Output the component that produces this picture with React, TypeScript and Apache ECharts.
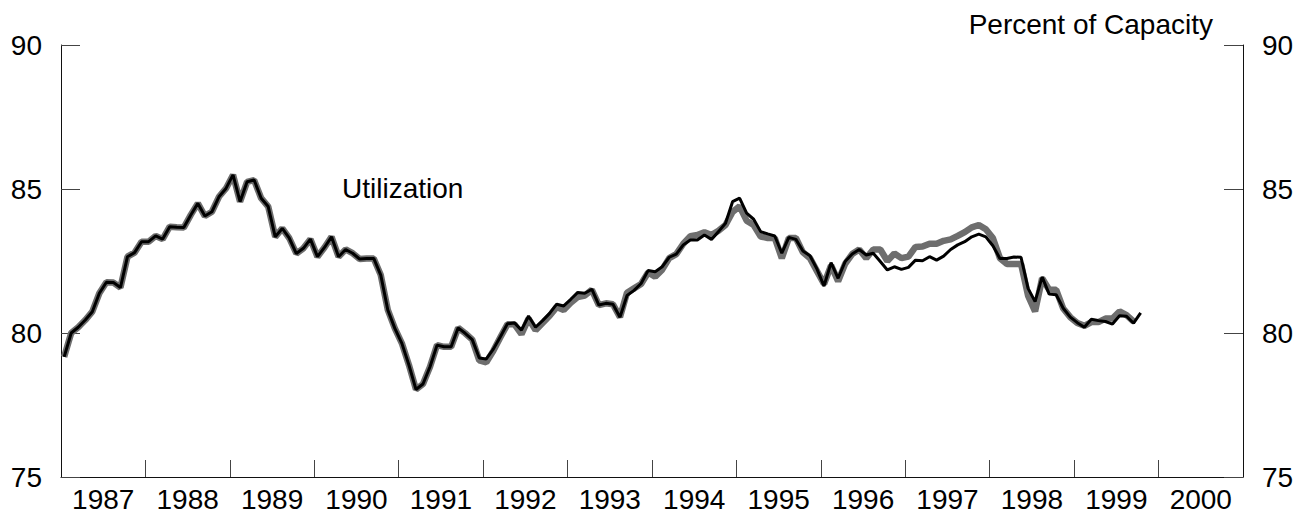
import React, { useEffect, useRef } from "react";
import * as echarts from "echarts";

// Monthly series starting January 1987
const START_YEAR = 1987;
const utilizationCurrent = [
  79.17, 80.0, 80.2, 80.45, 80.74, 81.38, 81.76, 81.75, 81.58, 82.65, 82.79, 83.17,
  83.17, 83.37, 83.26, 83.69, 83.67, 83.66, 84.1, 84.5, 84.06, 84.21, 84.73, 85.02,
  85.49, 84.56, 85.25, 85.31, 84.68, 84.39, 83.34, 83.63, 83.29, 82.76, 82.94, 83.26,
  82.65, 82.97, 83.34, 82.65, 82.9, 82.77, 82.57, 82.59, 82.59, 82.01, 80.8, 80.16,
  79.64, 78.89, 78.04, 78.23, 78.83, 79.58, 79.52, 79.52, 80.18, 79.99, 79.77, 79.13,
  79.1, 79.44, 79.87, 80.32, 80.35, 80.1, 80.59, 80.2, 80.43, 80.68, 81.0, 80.94,
  81.17, 81.41, 81.38, 81.52, 80.97, 81.03, 81.0, 80.55, 81.3, 81.48, 81.72, 82.17,
  82.13, 82.3, 82.63, 82.74, 83.06, 83.23, 83.23, 83.4, 83.25, 83.52, 83.81, 84.56,
  84.68, 84.16, 83.95, 83.52, 83.44, 83.37, 82.77, 83.32, 83.25, 82.85, 82.68, 82.22,
  81.63, 82.44, 81.9, 82.48, 82.74, 82.9, 82.71, 82.77, 82.48, 82.19, 82.3, 82.21,
  82.28, 82.53, 82.51, 82.65, 82.53, 82.67, 82.9, 83.06, 83.17, 83.34, 83.43, 83.34,
  83.03, 82.59, 82.59, 82.64, 82.63, 81.55, 81.09, 81.95, 81.35, 81.33, 80.86, 80.55,
  80.36, 80.2, 80.48, 80.43, 80.4, 80.31, 80.6, 80.58, 80.34, 80.7,
];
const utilizationPrevious = [
  79.17, 80.0, 80.2, 80.45, 80.74, 81.38, 81.76, 81.75, 81.58, 82.65, 82.79, 83.17,
  83.17, 83.37, 83.26, 83.69, 83.67, 83.66, 84.1, 84.5, 84.06, 84.21, 84.73, 85.02,
  85.49, 84.56, 85.25, 85.31, 84.68, 84.39, 83.34, 83.63, 83.29, 82.76, 82.94, 83.26,
  82.65, 82.97, 83.34, 82.65, 82.9, 82.77, 82.57, 82.59, 82.59, 82.01, 80.8, 80.16,
  79.64, 78.89, 78.04, 78.23, 78.83, 79.58, 79.52, 79.52, 80.18, 79.99, 79.77, 79.05,
  78.98, 79.38, 79.85, 80.3, 80.3, 79.96, 80.5, 80.1, 80.35, 80.6, 80.9, 80.8,
  81.05, 81.25, 81.3, 81.5, 80.97, 81.03, 81.0, 80.55, 81.4, 81.55, 81.7, 82.1,
  81.95, 82.2, 82.6, 82.74, 83.1, 83.36, 83.4, 83.5, 83.4, 83.55, 83.75, 84.2,
  84.4, 83.9, 83.75, 83.35, 83.3, 83.3, 82.6, 83.3, 83.3, 82.8, 82.6, 82.15,
  81.7, 82.35, 81.8, 82.4, 82.74, 82.9, 82.6, 82.9, 82.9, 82.5, 82.76, 82.6,
  82.65, 82.99, 83.0, 83.1, 83.1, 83.2, 83.25, 83.37, 83.5, 83.67, 83.75, 83.6,
  83.3, 82.6, 82.4, 82.4, 82.4, 81.3, 80.75, 81.9, 81.5, 81.5, 80.85, 80.55,
  80.35, 80.25, 80.38, 80.38, 80.5, 80.5, 80.75, 80.62, 80.4,
];
const yearTicks = [1988, 1989, 1990, 1991, 1992, 1993, 1994, 1995, 1996, 1997, 1998, 1999, 2000];
const yearLabels = [1987, 1988, 1989, 1990, 1991, 1992, 1993, 1994, 1995, 1996, 1997, 1998, 1999, 2000];
const yAxisTicks = [75, 80, 85, 90];

const FONT = "Liberation Sans, Arial, Helvetica, sans-serif";

function toPoints(vals: number[]) {
  return vals.map((v, i) => [START_YEAR + (i + 0.45) / 12, v]);
}

export default function App() {
  const ref = useRef<HTMLDivElement>(null);
  useEffect(() => {
    if (!ref.current) return;
    const chart = echarts.init(ref.current, undefined, { renderer: "svg" });
    const yAxisCommon = {
      type: "value",
      min: yAxisTicks[0],
      max: yAxisTicks[yAxisTicks.length - 1],
      interval: 5,
      splitLine: { show: false },
      axisLine: { show: true, lineStyle: { color: "#111", width: 1 } },
      axisTick: { show: true, inside: true, length: 19, lineStyle: { color: "#444", width: 1 } },
      axisLabel: { show: true, margin: 19, fontSize: 28, color: "#000", fontFamily: FONT },
    };
    chart.setOption({
      animation: false,
      backgroundColor: "#fff",
      grid: { left: 61, right: 67, top: 45, bottom: 37, outerBoundsMode: "none" },
      xAxis: {
        type: "value",
        min: 1987,
        max: 2001,
        interval: 1,
        splitLine: { show: false },
        axisLine: { show: true, onZero: false, lineStyle: { color: "#111", width: 1 } },
        axisTick: {
          show: true,
          inside: true,
          length: 17,
          customValues: yearTicks,
          lineStyle: { color: "#444", width: 1 },
        },
        axisLabel: {
          show: true,
          margin: 8,
          fontSize: 28,
          color: "#000",
          fontFamily: FONT,
          customValues: yearLabels.map((y) => y + 0.5),
          formatter: (v: number) => String(Math.floor(v)),
        },
      },
      yAxis: [
        { ...yAxisCommon, position: "left" },
        { ...yAxisCommon, position: "right" },
      ],
      series: [
        {
          type: "line",
          name: "previous",
          data: toPoints(utilizationPrevious),
          showSymbol: false,
          symbol: "none",
          lineStyle: { color: "#6e6e6e", width: 6.5 },
          z: 2,
        },
        {
          type: "line",
          name: "current",
          data: toPoints(utilizationCurrent),
          showSymbol: false,
          symbol: "none",
          lineStyle: { color: "#000", width: 3 },
          z: 3,
        },
      ],
      graphic: [
        {
          type: "text",
          x: 342,
          y: 188,
          style: {
            text: "Utilization",
            font: `28px ${FONT}`,
            fill: "#000",
            textAlign: "left",
            textVerticalAlign: "middle",
          },
        },
        {
          type: "text",
          x: 1213,
          y: 24,
          style: {
            text: "Percent of Capacity",
            font: `28px ${FONT}`,
            fill: "#000",
            textAlign: "right",
            textVerticalAlign: "middle",
          },
        },
      ],
    });
    return () => chart.dispose();
  }, []);
  return (
    <div
      ref={ref}
      style={{ position: "fixed", left: 0, top: 0, width: 1310, height: 514, background: "#fff" }}
    />
  );
}
